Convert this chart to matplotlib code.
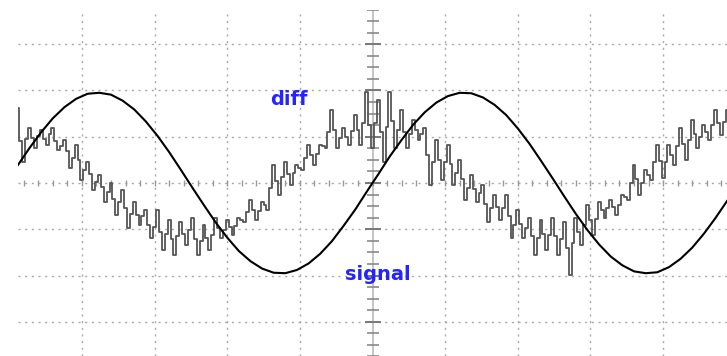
import numpy as np
import matplotlib
matplotlib.use("Agg")
import matplotlib.pyplot as plt

# Screen spans 9.76 x 7.48 divisions, centred on (0, 0)
X_HALF = 4.88
Y_HALF = 3.74

# signal trace: one sample every 0.16 div
signal_step = 0.16
signal = [0.39, 0.76, 1.10, 1.40, 1.64, 1.82, 1.93, 1.95, 1.91, 1.78,
          1.59, 1.33, 1.02, 0.67, 0.29, -0.10, -0.48, -0.85, -1.18, -1.47,
          -1.69, -1.85, -1.94, -1.95, -1.88, -1.74, -1.53, -1.26, -0.93, -0.58,
          -0.19, 0.19, 0.58, 0.93, 1.26, 1.53, 1.74, 1.88, 1.95, 1.94,
          1.85, 1.69, 1.47, 1.18, 0.85, 0.48, 0.10, -0.29, -0.67, -1.02,
          -1.33, -1.59, -1.78, -1.91, -1.95, -1.93, -1.82, -1.64, -1.40, -1.10,
          -0.76, -0.39]

# diff trace: one sample every 0.04 div
diff_step = 0.04
diff = [1.62, 0.90, 0.45, 0.95, 1.19, 0.98, 0.76, 1.02, 1.14, 0.95,
        0.82, 1.05, 1.19, 0.90, 0.71, 0.80, 0.93, 0.70, 0.32, 0.55,
        0.82, 0.50, 0.06, 0.28, 0.45, 0.20, -0.15, 0.02, 0.17, -0.08,
        -0.41, -0.20, 0.00, -0.35, -0.69, -0.40, -0.15, -0.55, -0.97, -0.66,
        -0.41, -0.70, -0.91, -0.72, -0.58, -0.90, -1.19, -0.95, -0.58, -1.05,
        -1.45, -1.10, -0.80, -1.20, -1.56, -1.15, -0.84, -1.10, -1.34, -1.02,
        -0.76, -1.22, -1.56, -1.25, -0.91, -1.18, -1.45, -1.12, -0.76, -0.98,
        -1.19, -1.02, -0.80, -0.95, -1.12, -0.92, -0.76, -0.80, -0.84, -0.62,
        -0.37, -0.58, -0.80, -0.60, -0.41, -0.48, -0.58, -0.10, 0.39, 0.05,
        -0.26, 0.12, 0.45, 0.20, -0.04, 0.22, 0.39, 0.33, 0.28, 0.55,
        0.82, 0.60, 0.39, 0.62, 0.82, 0.79, 0.76, 1.10, 1.58, 1.15,
        0.76, 0.98, 1.19, 1.00, 0.82, 1.12, 1.47, 1.15, 0.82, 1.30,
        1.97, 1.25, 0.76, 1.30, 1.79, 1.10, 0.45, 1.20, 1.97, 1.35,
        0.76, 1.15, 1.58, 1.10, 0.76, 1.05, 1.36, 1.15, 0.93, 1.05,
        1.19, 0.60, -0.04, 0.45, 0.93, 0.50, 0.06, 0.45, 0.82, 0.40,
        -0.04, 0.22, 0.50, 0.08, -0.37, -0.10, 0.17, -0.12, -0.41, -0.22,
        -0.04, -0.45, -0.84, -0.55, -0.26, -0.52, -0.80, -0.55, -0.26, -0.72,
        -1.19, -0.90, -0.58, -0.88, -1.19, -0.98, -0.76, -1.15, -1.56, -1.18,
        -0.80, -1.10, -1.45, -1.12, -0.76, -1.15, -1.56, -1.20, -0.84, -1.40,
        -1.99, -1.30, -0.76, -1.05, -1.34, -0.90, -0.48, -0.80, -1.12, -0.78,
        -0.41, -0.58, -0.76, -0.55, -0.37, -0.52, -0.69, -0.48, -0.26, -0.30,
        -0.37, 0.00, 0.39, 0.08, -0.26, 0.00, 0.28, 0.18, 0.06, 0.45,
        0.82, 0.48, 0.11, 0.46, 0.82, 0.60, 0.39, 0.80, 1.19, 0.85,
        0.50, 0.92, 1.36, 1.05, 0.76, 1.00, 1.25, 1.10, 0.93, 1.25,
        1.58, 1.30, 1.04, 1.32, 1.58]

t_signal = -X_HALF + signal_step * np.arange(len(signal))
t_diff = -X_HALF + diff_step * np.arange(len(diff))

W, H = 727, 356
fig = plt.figure(figsize=(W / 100, H / 100), dpi=100)
fig.patch.set_facecolor("white")
ax = fig.add_axes([18 / W, 0, (W - 18) / W, (H - 10) / H])
ax.set_xlim(-X_HALF, X_HALF)
ax.set_ylim(-Y_HALF, Y_HALF)
ax.axis("off")

grid_kw = dict(color="#a8a8a8", lw=1.0, dashes=(1.5, 3.3), zorder=1)
for gx in range(-4, 5):
    if gx != 0:
        ax.axvline(gx, **grid_kw)
for gy in range(-3, 4):
    ax.axhline(gy, **grid_kw)

# centre graticule with tick marks
ax.axvline(0, color="#c4c4c4", lw=1.4, zorder=1)
minor_y = np.arange(-3.75, 3.76, 0.25)
ax.plot(np.zeros_like(minor_y), minor_y, ls="none", marker="_",
        ms=8, mew=1.2, color="#8a8a8a", zorder=2)
major_y = np.arange(-3, 4, 1)
ax.plot(np.zeros_like(major_y), major_y, ls="none", marker="_",
        ms=11, mew=1.4, color="#7a7a7a", zorder=2)
minor_x = np.arange(-4.8, 4.81, 0.2)
ax.plot(minor_x, np.zeros_like(minor_x), ls="none", marker="|",
        ms=4, mew=1.0, color="#9a9a9a", zorder=2)

ax.plot(t_diff, diff, color="#555555", lw=1.3, drawstyle="steps-mid",
        zorder=3)
ax.plot(t_signal, signal, color="black", lw=1.5, zorder=4)

ax.text(-1.41, 1.68, "diff", color="#2424ff", fontsize=14,
        fontweight="bold", ha="left", va="baseline", zorder=5)
ax.text(-0.38, -2.09, "signal", color="#2424ff", fontsize=14,
        fontweight="bold", ha="left", va="baseline", zorder=5)

fig.savefig("out.png", dpi=100, facecolor="white")
